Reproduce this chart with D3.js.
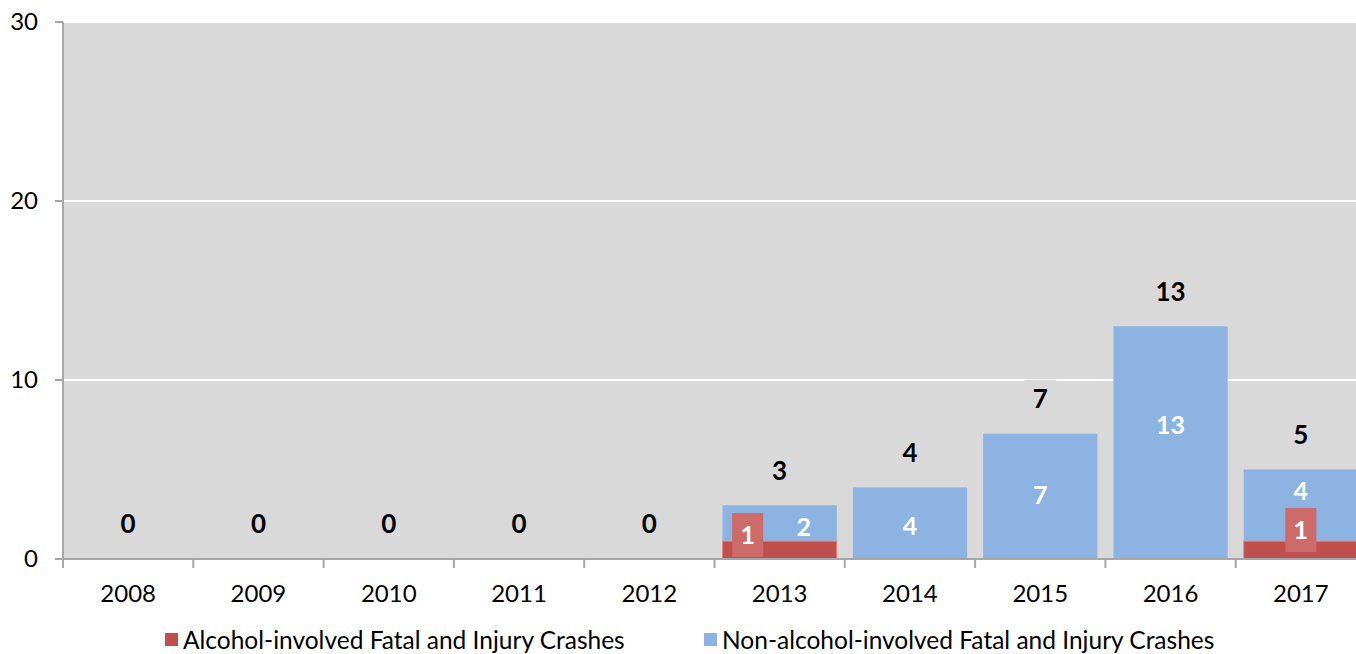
<!DOCTYPE html>
<html><head><meta charset="utf-8">
<script src="https://cdn.jsdelivr.net/npm/d3@7"></script>
<style>
html,body{margin:0;padding:0;background:#fff;}
svg{display:block;}
text{font-family:Lato,"Liberation Sans",sans-serif;}
</style></head>
<body>
<svg id="chart" width="1356" height="654"></svg>
<script>
const years = ["2008","2009","2010","2011","2012","2013","2014","2015","2016","2017"];
const alcohol = [0,0,0,0,0,1,0,0,0,1];
const nonAlcohol = [0,0,0,0,0,2,4,7,13,4];
const totals = [0,0,0,0,0,3,4,7,13,5];
const yTicks = [0,10,20,30];
const seriesNames = ["Alcohol-involved Fatal and Injury Crashes","Non-alcohol-involved Fatal and Injury Crashes"];

// layout / style config
const colors = {alc:"#c0504d", alcLabel:"#cd6a6a", non:"#8db3e2", bg:"#d9d9d9", axis:"#a6a6a6"};
const innerDx = [0,0,0,0,0,24,0,0,0,0];
const innerDy = [0,0,0,0,0,4,3,-1,-18,-14];
const alcLabelDx = [0,0,0,0,0,-32,0,0,0,0];
const alcLabelDy = [0,0,0,0,0,0,-5,0,0,-5];

const svg = d3.select("#chart");
const m = {left:63, top:22, bottom:559};
const plotW = 1303;
const x = d3.scaleBand().domain(years).range([m.left, m.left+plotW]).paddingInner(0.123).paddingOuter(0.0615);
const xTick = d3.scaleBand().domain(years).range([m.left, m.left+plotW]);
const y = d3.scaleLinear().domain([0,30]).range([m.bottom, m.top]);

svg.append("rect").attr("x",m.left).attr("y",m.top).attr("width",plotW).attr("height",m.bottom-m.top).attr("fill",colors.bg);

svg.append("g").selectAll("line").data(yTicks.filter(d=>d>0)).join("line")
  .attr("x1",m.left).attr("x2",m.left+plotW)
  .attr("y1",d=>y(d)).attr("y2",d=>y(d))
  .attr("stroke","#fff").attr("stroke-width",2);

const g = svg.append("g");
g.selectAll("rect.non").data(years).join("rect").attr("class","non")
  .attr("x",d=>x(d)).attr("width",x.bandwidth())
  .attr("y",(d,i)=>y(alcohol[i]+nonAlcohol[i]))
  .attr("height",(d,i)=>y(alcohol[i])-y(alcohol[i]+nonAlcohol[i]))
  .attr("fill",colors.non);
g.selectAll("rect.alc").data(years).join("rect").attr("class","alc")
  .attr("x",d=>x(d)).attr("width",x.bandwidth())
  .attr("y",(d,i)=>y(alcohol[i]))
  .attr("height",(d,i)=>y(0)-y(alcohol[i]))
  .attr("fill",colors.alc).attr("stroke","#e08a88").attr("stroke-width",1)
  .attr("display",(d,i)=>alcohol[i]>0?null:"none");

const yAxis = svg.append("g");
yAxis.append("line").attr("x1",m.left).attr("x2",m.left).attr("y1",m.top).attr("y2",m.bottom+1)
  .attr("stroke",colors.axis).attr("stroke-width",2);
yAxis.selectAll("line.t").data(yTicks).join("line").attr("class","t")
  .attr("x1",m.left-8).attr("x2",m.left).attr("y1",d=>y(d)).attr("y2",d=>y(d))
  .attr("stroke",colors.axis).attr("stroke-width",2);
yAxis.selectAll("text").data(yTicks).join("text")
  .attr("x",m.left-25).attr("y",d=>y(d)).attr("dy","0.35em").attr("text-anchor","end")
  .attr("font-size",24).attr("fill","#000").text(d=>d);

const xAxis = svg.append("g");
xAxis.append("line").attr("x1",m.left).attr("x2",m.left+plotW).attr("y1",m.bottom).attr("y2",m.bottom)
  .attr("stroke",colors.axis).attr("stroke-width",2);
const tickXs = years.map(d=>xTick(d)).concat([m.left+plotW]);
xAxis.selectAll("line.t").data(tickXs).join("line").attr("class","t")
  .attr("x1",d=>d).attr("x2",d=>d).attr("y1",m.bottom).attr("y2",m.bottom+9)
  .attr("stroke",colors.axis).attr("stroke-width",2);
xAxis.selectAll("text").data(years).join("text")
  .attr("x",d=>xTick(d)+xTick.bandwidth()/2).attr("y",594).attr("dy","0.35em")
  .attr("text-anchor","middle").attr("font-size",24).attr("fill","#000").text(d=>d);

g.selectAll("text.nl").data(years).join("text").attr("class","nl")
  .attr("x",(d,i)=>x(d)+x.bandwidth()/2+innerDx[i])
  .attr("y",(d,i)=>y(alcohol[i]+nonAlcohol[i]/2)+innerDy[i]).attr("dy","0.36em")
  .attr("text-anchor","middle").attr("font-size",25).attr("font-weight","bold").attr("fill","#fff")
  .attr("display",(d,i)=>nonAlcohol[i]>0?null:"none")
  .text((d,i)=>nonAlcohol[i]);

const al = g.selectAll("g.al").data(years.filter((d,i)=>alcohol[i]>0)).join("g").attr("class","al")
  .attr("transform",d=>{const i=years.indexOf(d);return `translate(${x(d)+x.bandwidth()/2+alcLabelDx[i]},${y(alcohol[i]/2)+alcLabelDy[i]-15})`;});
al.append("rect").attr("x",-15.5).attr("y",-22).attr("width",31).attr("height",44).attr("fill",colors.alcLabel);
al.append("text").attr("y",0).attr("dy","0.36em").attr("text-anchor","middle")
  .attr("font-size",25).attr("font-weight","bold").attr("fill","#fff")
  .text(d=>alcohol[years.indexOf(d)]);

const tl = g.selectAll("g.tl").data(years).join("g").attr("class","tl")
  .attr("transform",(d,i)=>`translate(${x(d)+x.bandwidth()/2},${y(totals[i])-35})`);
tl.append("rect").attr("x",(d,i)=>-(String(totals[i]).length*8+8)).attr("y",-19)
  .attr("width",(d,i)=>String(totals[i]).length*16+16).attr("height",38).attr("fill",colors.bg);
tl.append("text").attr("dy","0.36em").attr("text-anchor","middle")
  .attr("font-size",26).attr("font-weight","bold").attr("fill","#000")
  .text((d,i)=>totals[i]);

const leg = svg.append("g");
const legItems = [{name:seriesNames[0],color:colors.alc,x:165},{name:seriesNames[1],color:colors.non,x:704}];
leg.selectAll("rect").data(legItems).join("rect")
  .attr("x",d=>d.x).attr("y",633).attr("width",13).attr("height",13).attr("fill",d=>d.color);
leg.selectAll("text").data(legItems).join("text")
  .attr("x",d=>d.x+18).attr("y",640).attr("dy","0.35em")
  .attr("font-size",24.5).attr("fill","#000").text(d=>d.name);
</script>
</body></html>
